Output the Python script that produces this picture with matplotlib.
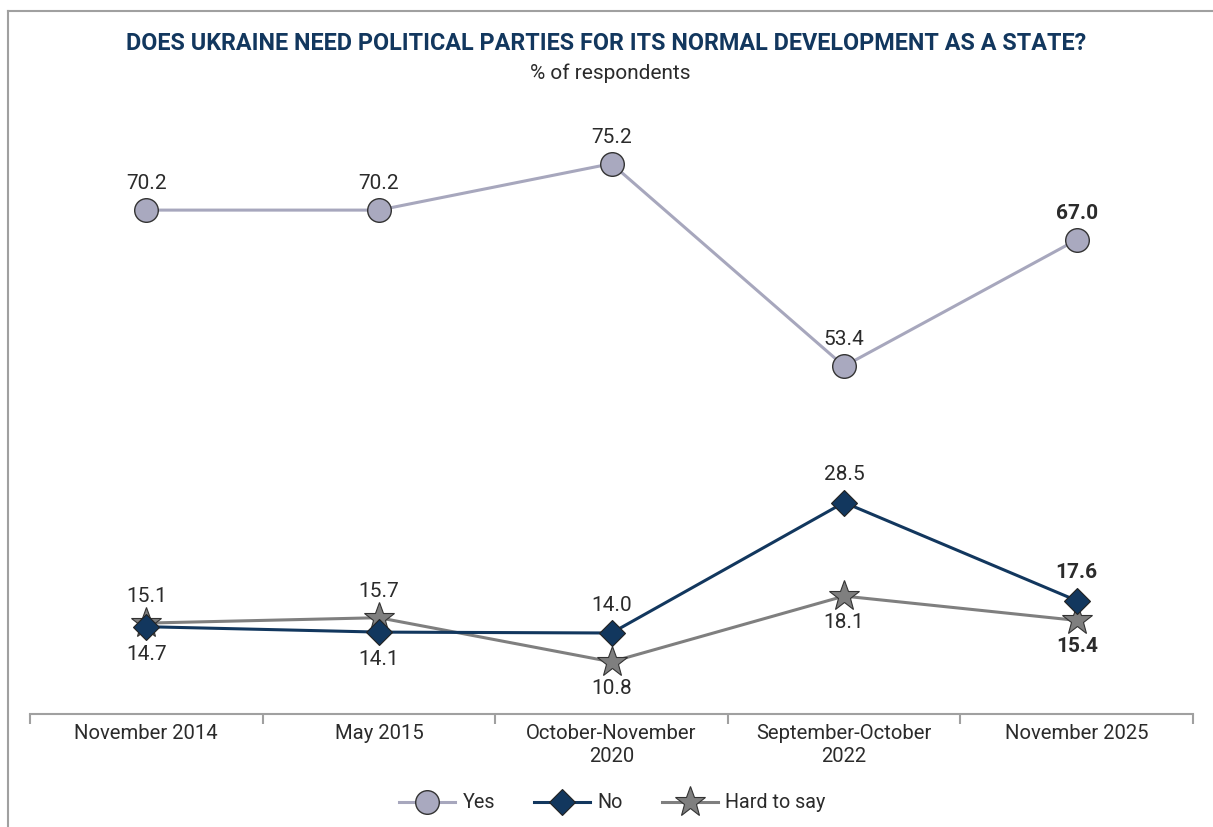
import matplotlib
matplotlib.use('Agg')
from matplotlib import pyplot as plt
from matplotlib.lines import Line2D

plt.rcParams['font.family'] = ['Roboto', 'DejaVu Sans']

waves = ['November 2014', 'May 2015', 'October-November\n2020', 'September-October\n2022', 'November 2025']
yes = [70.2, 70.2, 75.2, 53.4, 67.0]
no = [14.7, 14.1, 14.0, 28.5, 17.6]
hard = [15.1, 15.7, 10.8, 18.1, 15.4]

# label above (+1) or below (-1) each point
no_pos = [-1, -1, 1, 1, 1]
hard_pos = [1, 1, -1, -1, -1]

navy = '#12375e'
lilac = '#a7a7bd'
grey = '#7f7f7f'
txt = '#2b2b2b'

fig = plt.figure(figsize=(12.13, 8.27), dpi=100)
ax = fig.add_axes([30 / 1213, 1 - 714 / 827, 1163 / 1213, 594 / 827])
ax2 = ax.twinx()

x = list(range(len(waves)))
ax2.plot(x, yes, color=lilac, lw=2.2, marker='o', ms=17, mfc='#a9a9bf', mec='#333333', mew=1.0, zorder=3)
ax.plot(x, hard, color=grey, lw=2.2, marker='*', ms=23, mfc='#7f7f7f', mec='#333333', mew=0.8, zorder=3)
ax.plot(x, no, color=navy, lw=2.2, marker='D', ms=13, mfc=navy, mec='#222222', mew=0.8, zorder=4)

ax.set_ylim(5, 71)
ax2.set_ylim(15.95, 79.9)
ax.set_xlim(-0.5, 4.5)

last = len(waves) - 1
for i, v in enumerate(yes):
    ax2.annotate(f'{v:.1f}', (i, v), xytext=(0, 19), textcoords='offset points', ha='center', va='center',
                 fontsize=15, color=txt, fontweight='bold' if i == last else 'normal')
for i, v in enumerate(no):
    ax.annotate(f'{v:.1f}', (i, v), xytext=(0, 20 * no_pos[i]), textcoords='offset points', ha='center',
                va='center', fontsize=15, color=txt, fontweight='bold' if i == last else 'normal')
for i, v in enumerate(hard):
    ax.annotate(f'{v:.1f}', (i, v), xytext=(0, 19 * hard_pos[i]), textcoords='offset points', ha='center',
                va='center', fontsize=15, color=txt, fontweight='bold' if i == last else 'normal')

for a in (ax, ax2):
    for s in ('top', 'left', 'right'):
        a.spines[s].set_visible(False)
    a.set_yticks([])
ax2.spines['bottom'].set_visible(False)
ax.spines['bottom'].set_color('#a0a0a0')
ax.spines['bottom'].set_linewidth(1.5)

ax.set_xticks(x)
ax.set_xticklabels(waves, fontsize=14.6, color=txt, linespacing=1.3, va='top')
ax.tick_params(axis='x', which='major', length=0, pad=7)
ax.set_xticks([i - 0.5 for i in range(len(waves) + 1)], minor=True)
ax.tick_params(axis='x', which='minor', length=7, width=1.5, color='#a0a0a0')

fig.text(0.5, 1 - 44 / 827, 'DOES UKRAINE NEED POLITICAL PARTIES FOR ITS NORMAL DEVELOPMENT AS A STATE?',
         ha='center', va='center', fontsize=16.8, fontweight='bold', color=navy)
fig.text(0.503, 1 - 73 / 827, '% of respondents', ha='center', va='center', fontsize=15, color=txt)

# frame around the chart
fig.add_artist(Line2D([8 / 1213, 1], [1 - 11 / 827, 1 - 11 / 827], color='#a0a0a0', lw=1.5))
fig.add_artist(Line2D([8 / 1213, 8 / 1213], [0, 1 - 11 / 827], color='#a0a0a0', lw=1.5))

handles = [
    Line2D([], [], color=lilac, lw=2.2, marker='o', ms=17, mfc='#a9a9bf', mec='#333333', mew=1.0),
    Line2D([], [], color=navy, lw=2.2, marker='D', ms=13, mfc=navy, mec='#222222', mew=0.8),
    Line2D([], [], color=grey, lw=2.2, marker='*', ms=23, mfc='#7f7f7f', mec='#333333', mew=0.8),
]
fig.legend(handles, ['Yes', 'No', 'Hard to say'], loc='center', bbox_to_anchor=(0.505, 1 - 803 / 827),
           ncol=3, frameon=False, fontsize=14.2, handlelength=2.8, columnspacing=2.0, handletextpad=0.4,
           labelcolor=txt)

fig.savefig('out.png', dpi=100)
